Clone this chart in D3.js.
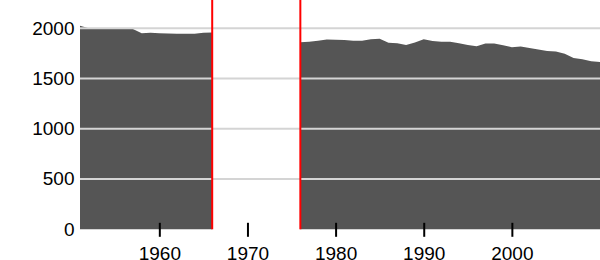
<!DOCTYPE html>
<html>
<head>
<meta charset="utf-8">
<script src="https://cdn.jsdelivr.net/npm/d3@7"></script>
<style>
  body { margin: 0; background: #fff; overflow: hidden; }
  svg { display: block; }
  text { font-family: "Liberation Sans", Arial, sans-serif; }
</style>
</head>
<body>
<script>
// Data: population by year, two recorded periods with a gap between
const years1 = [1951, 1952, 1953, 1954, 1955, 1956, 1957, 1958, 1959, 1960, 1961, 1962, 1963, 1964, 1965, 1966];
const pop1 = [2025, 2000, 1997, 1995, 1995, 1995, 1993, 1950, 1955, 1950, 1948, 1946, 1947, 1946, 1955, 1957];

const years2 = [1976, 1977, 1978, 1979, 1980, 1981, 1982, 1983, 1984, 1985, 1986, 1987, 1988, 1989, 1990, 1991, 1992,
  1993, 1994, 1995, 1996, 1997, 1998, 1999, 2000, 2001, 2002, 2003, 2004, 2005, 2006, 2007, 2008, 2009, 2010];
const pop2 = [1860, 1865, 1875, 1888, 1886, 1883, 1877, 1877, 1890, 1897, 1855, 1851, 1834, 1858, 1890, 1874, 1865,
  1867, 1852, 1835, 1821, 1848, 1848, 1832, 1811, 1818, 1803, 1788, 1775, 1768, 1748, 1705, 1692, 1672, 1665];

const xTicks = [1960, 1970, 1980, 1990, 2000];
const yTicks = [0, 500, 1000, 1500, 2000];
const gapMarks = [1966, 1976];

const width = 600, height = 260;
const margin = { top: 0, right: 0, bottom: 30.7, left: 80 };

const svg = d3.select("body")
  .append("svg")
  .attr("width", width)
  .attr("height", height);

const xScale = d3.scaleLinear()
  .domain([1951, 2010])
  .range([margin.left, width - margin.right]);

const yScale = d3.scaleLinear()
  .domain([0, 2000])
  .range([height - margin.bottom, 28.3]);

const area = d3.area()
  .x((d) => xScale(d[0]))
  .y0(yScale(0))
  .y1((d) => yScale(d[1]));

// Add the areas
const segments = [d3.zip(years1, pop1), d3.zip(years2, pop2)];
svg.selectAll("path.pop")
  .data(segments)
  .enter()
  .append("path")
  .attr("class", "pop")
  .attr("fill", "#555")
  .attr("d", area);

// Gridlines on top of the area
svg.selectAll("line.grid")
  .data(yTicks.filter((d) => d > 0))
  .enter()
  .append("line")
  .attr("x1", margin.left)
  .attr("x2", width)
  .attr("y1", (d) => yScale(d))
  .attr("y2", (d) => yScale(d))
  .attr("stroke", "#d4d4d4")
  .attr("stroke-width", 2);

// Y labels
svg.selectAll("text.ylab")
  .data(yTicks)
  .enter()
  .append("text")
  .attr("x", 74.5)
  .attr("y", (d) => yScale(d))
  .attr("dy", "0.33em")
  .attr("text-anchor", "end")
  .attr("font-size", 19)
  .attr("fill", "#000")
  .text((d) => d);

// X axis ticks and labels
const xAxis = svg.append("g")
  .attr("transform", `translate(0, ${yScale(0)})`)
  .call(d3.axisBottom(xScale).tickValues(xTicks).tickFormat(d3.format("d")).tickSize(7.5).tickPadding(9.5));
xAxis.select(".domain").remove();
xAxis.selectAll(".tick line")
  .attr("y1", -6.5)
  .attr("stroke", "#000")
  .attr("stroke-width", 2);
xAxis.selectAll(".tick text")
  .attr("font-size", 19)
  .attr("font-family", "Liberation Sans, Arial, sans-serif")
  .attr("fill", "#000");

// Red markers at the gap edges
svg.selectAll("line.gap")
  .data(gapMarks)
  .enter()
  .append("line")
  .attr("x1", (d) => xScale(d))
  .attr("x2", (d) => xScale(d))
  .attr("y1", 0)
  .attr("y2", yScale(0))
  .attr("stroke", "#f00")
  .attr("stroke-width", 2);
</script>
</body>
</html>
